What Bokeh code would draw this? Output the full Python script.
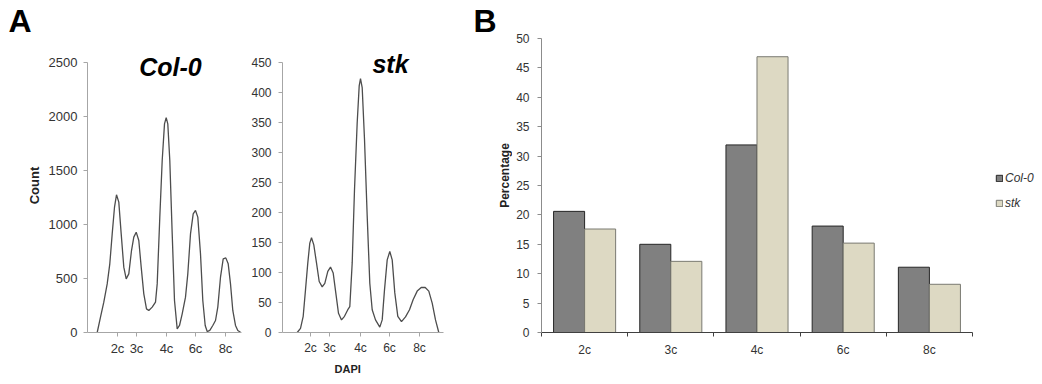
import math
from bokeh.plotting import figure
from bokeh.layouts import row
from bokeh.models import (Range1d, FixedTicker, SingleIntervalTicker, Label, Title,
                          Legend, LegendItem, ColumnDataSource)
from bokeh.transform import dodge
from bokeh.embed import file_html
from bokeh.resources import INLINE

FONT = "Liberation Sans"

# ---- Panel A: DAPI flow-cytometry histograms ----
col0_dapi = [9.7, 13, 16.3, 19.7, 22.3, 24.7, 27, 29, 31.3, 33.7, 36.3, 38.7, 41.3, 44,
             46.3, 48.7, 51.3, 53.7, 56.3, 59, 61.3, 64.7, 68, 69.7, 72.3, 74.7, 77, 78.7,
             80.3, 82.3, 84.7, 87, 89.7, 92, 94.7, 98, 100.3, 103, 105.7, 108, 110.3, 113,
             115.3, 117.7, 119.7, 122.3, 125.3, 128, 130.3, 133, 135.7, 138.3, 140.7, 143,
             145.3, 148, 150.3, 153]
col0_count = [0, 142, 281, 450, 636, 913, 1160, 1275, 1207, 913, 605, 497, 543, 759,
              883, 929, 852, 605, 358, 219, 204, 235, 281, 450, 1068, 1592, 1932, 1990,
              1932, 1592, 913, 296, 34, 65, 173, 327, 543, 913, 1099, 1130, 1068, 728,
              296, 65, 9, 19, 65, 111, 235, 512, 682, 691, 636, 450, 204, 65, 19, 3]

stk_dapi = [14.7, 18, 20.7, 23, 25.3, 27.3, 29, 31.3, 34, 36.7, 39.7, 42.3, 45.3, 48,
            50.7, 53.3, 56, 59, 62, 65.3, 67.3, 69.7, 72, 74.7, 76.7, 78, 79.7, 82, 84.7,
            87.3, 89.7, 93, 97.3, 99.7, 102, 104.7, 107.3, 109.7, 112.3, 115.3, 119, 123,
            127, 130.7, 134.7, 138.7, 142.7, 146.3, 149.7, 153, 156.3]
stk_count = [0, 7, 27, 71, 116, 149, 158, 146, 116, 85, 76, 82, 102, 109,
             99, 66, 32, 21, 27, 38, 43, 116, 238, 350, 411, 423, 408, 322, 194,
             82, 38, 21, 9, 21, 71, 121, 135, 121, 66, 27, 18, 26,
             38, 55, 69, 75, 75, 69, 49, 21, 0]

ploidy = ["2c", "3c", "4c", "6c", "8c"]
col0_peak_pos = [30, 49, 79, 108, 138]
stk_peak_pos = [28, 47, 78, 107, 137]

# ---- Panel B: ploidy distribution (%) ----
pct_col0 = [20.6, 15.0, 31.9, 18.1, 11.1]
pct_stk = [17.6, 12.1, 46.9, 15.2, 8.2]

AX_GREY = "#a6a6a6"
TXT = "#333333"
CURVE = "#4d4d4d"

# shared frame geometry (px): all frames run from y=38 to y=332
TOP, BOTTOM, H = 38, 52, 384
FRAME_H = H - TOP - BOTTOM
HIST_TOP_PX = 62  # where the histogram y-axis maximum sits


def style_hist(p, font_px, label_standoff):
    p.grid.visible = False
    p.outline_line_color = None
    p.background_fill_color = "white"
    for ax in (p.xaxis[0], p.yaxis[0]):
        ax.axis_line_color = AX_GREY
        ax.major_tick_line_color = AX_GREY
        ax.major_tick_out = 4
        ax.major_tick_in = 0
        ax.minor_tick_line_color = None
        ax.major_label_text_font = FONT
        ax.major_label_text_font_size = f"{font_px}px"
        ax.major_label_text_color = TXT
    p.yaxis[0].major_label_standoff = label_standoff
    p.xaxis[0].major_label_standoff = 4


def hist_panel(width, border_left, border_right, x_end, y_max, y_step,
               dapi, count, peaks, font_px, standoff):
    axis_h = H - BOTTOM - HIST_TOP_PX
    y_end = y_max * FRAME_H / axis_h
    p = figure(width=width, height=H, output_backend="svg", toolbar_location=None,
               x_range=Range1d(0, x_end), y_range=Range1d(0, y_end),
               min_border_left=border_left, min_border_right=border_right,
               min_border_top=TOP, min_border_bottom=BOTTOM)
    p.line(dapi, count, line_color=CURVE, line_width=1.3)
    p.yaxis[0].ticker = SingleIntervalTicker(interval=y_step, num_minor_ticks=0)
    p.yaxis[0].bounds = (0, y_max)
    p.xaxis[0].ticker = FixedTicker(ticks=peaks)
    p.xaxis[0].major_label_overrides = {t: lab for t, lab in zip(peaks, ploidy)}
    style_hist(p, font_px, standoff)
    return p


def panel_letter(text, offset):
    return Title(text=text, align="left", offset=offset, standoff=0,
                 text_font=FONT, text_font_size="32px", text_font_style="bold",
                 text_color="black")


pa1 = hist_panel(245, 87, 4, 154, 2500, 500, col0_dapi, col0_count,
                 col0_peak_pos, 13, 6)
pa1.yaxis[0].axis_label = "Count"
pa1.yaxis[0].axis_label_text_font = FONT
pa1.yaxis[0].axis_label_text_font_size = "13px"
pa1.yaxis[0].axis_label_text_font_style = "bold"
pa1.yaxis[0].axis_label_text_color = "#222222"
pa1.yaxis[0].axis_label_standoff = 4
pa1.add_layout(Label(x=83, y=2500, y_offset=-4, text="Col-0", text_align="center",
                     text_baseline="alphabetic", text_font=FONT, text_font_size="25px",
                     text_font_style="bold italic", text_color="black"))
pa1.add_layout(panel_letter("A", -79), "above")

pa2 = hist_panel(205, 37, 7, 161, 450, 50, stk_dapi, stk_count,
                 stk_peak_pos, 12, 7)
pa2.add_layout(Label(x=108, y=450, y_offset=-1, text="stk", text_align="center",
                     text_baseline="alphabetic", text_font=FONT, text_font_size="25px",
                     text_font_style="bold italic", text_color="black"))
pa2.add_layout(Title(text="DAPI", align="left", offset=52, standoff=6,
                     text_font=FONT, text_font_size="11px", text_font_style="bold",
                     text_color="#222222"), "below")

# ---- Panel B: letter and y-axis title strip (data y = page pixel row) ----
strip = figure(width=62, height=H, output_backend="svg", toolbar_location=None,
               x_range=Range1d(0, 62), y_range=Range1d(H - BOTTOM, TOP),
               x_axis_type=None, y_axis_type=None,
               min_border_left=0, min_border_right=0,
               min_border_top=TOP, min_border_bottom=BOTTOM)
strip.grid.visible = False
strip.outline_line_color = None
strip.add_layout(Label(x=54, y=175, text="Percentage", angle=math.pi / 2,
                       text_align="center", text_baseline="middle", text_font=FONT,
                       text_font_size="12px", text_font_style="bold",
                       text_color="#222222"))
strip.add_layout(panel_letter("B", 23), "above")

# ---- Panel B bar chart ----
n = len(ploidy)
centers = [i + 0.5 for i in range(n)]
src = ColumnDataSource(dict(x=centers, col0=pct_col0, stk=pct_stk, label=ploidy))

PB_W, PB_LEFT = 530, 29
cat_px = 86.2
pb = figure(width=PB_W, height=H, output_backend="svg", toolbar_location=None,
            x_range=Range1d(0, (PB_W - PB_LEFT) / cat_px), y_range=Range1d(0, 50),
            min_border_left=PB_LEFT, min_border_right=0,
            min_border_top=TOP, min_border_bottom=BOTTOM)
pb.grid.visible = False
pb.outline_line_color = None

r_col0 = pb.vbar(x=dodge("x", -0.18, range=pb.x_range), top="col0", width=0.36,
                 source=src, fill_color="#808080", line_color="#262626", line_width=1)
r_stk = pb.vbar(x=dodge("x", 0.18, range=pb.x_range), top="stk", width=0.36,
                source=src, fill_color="#ddd9c3", line_color="#7a7a72", line_width=1)

yax = pb.yaxis[0]
yax.ticker = SingleIntervalTicker(interval=5, num_minor_ticks=0)
yax.axis_line_color = "#8c8c8c"
yax.major_tick_line_color = "#8c8c8c"
yax.major_tick_out = 4
yax.major_tick_in = 0
yax.minor_tick_line_color = None
yax.major_label_standoff = 8
yax.major_label_text_font = FONT
yax.major_label_text_font_size = "12px"
yax.major_label_text_color = TXT

xax = pb.xaxis[0]
xax.bounds = (0, n)
xax.ticker = FixedTicker(ticks=centers, minor_ticks=list(range(n + 1)))
xax.major_label_overrides = {c: lab for c, lab in zip(centers, ploidy)}
xax.axis_line_color = "#404040"
xax.major_tick_line_color = None
xax.minor_tick_line_color = "#404040"
xax.minor_tick_out = 4
xax.minor_tick_in = 0
xax.major_label_standoff = 4
xax.major_label_text_font = FONT
xax.major_label_text_font_size = "12px"
xax.major_label_text_color = TXT

legend = Legend(items=[LegendItem(label="Col-0", renderers=[r_col0]),
                       LegendItem(label="stk", renderers=[r_stk])],
                location=(454, 122), glyph_width=8, glyph_height=8,
                label_text_font=FONT, label_text_font_size="12px",
                label_text_font_style="italic", label_text_color=TXT,
                label_height=12, spacing=11, padding=0, margin=0,
                label_standoff=2, border_line_color=None,
                background_fill_alpha=0)
pb.add_layout(legend)

layout = row(pa1, pa2, strip, pb, spacing=0)
open("out.html", "w").write(file_html(layout, INLINE))
